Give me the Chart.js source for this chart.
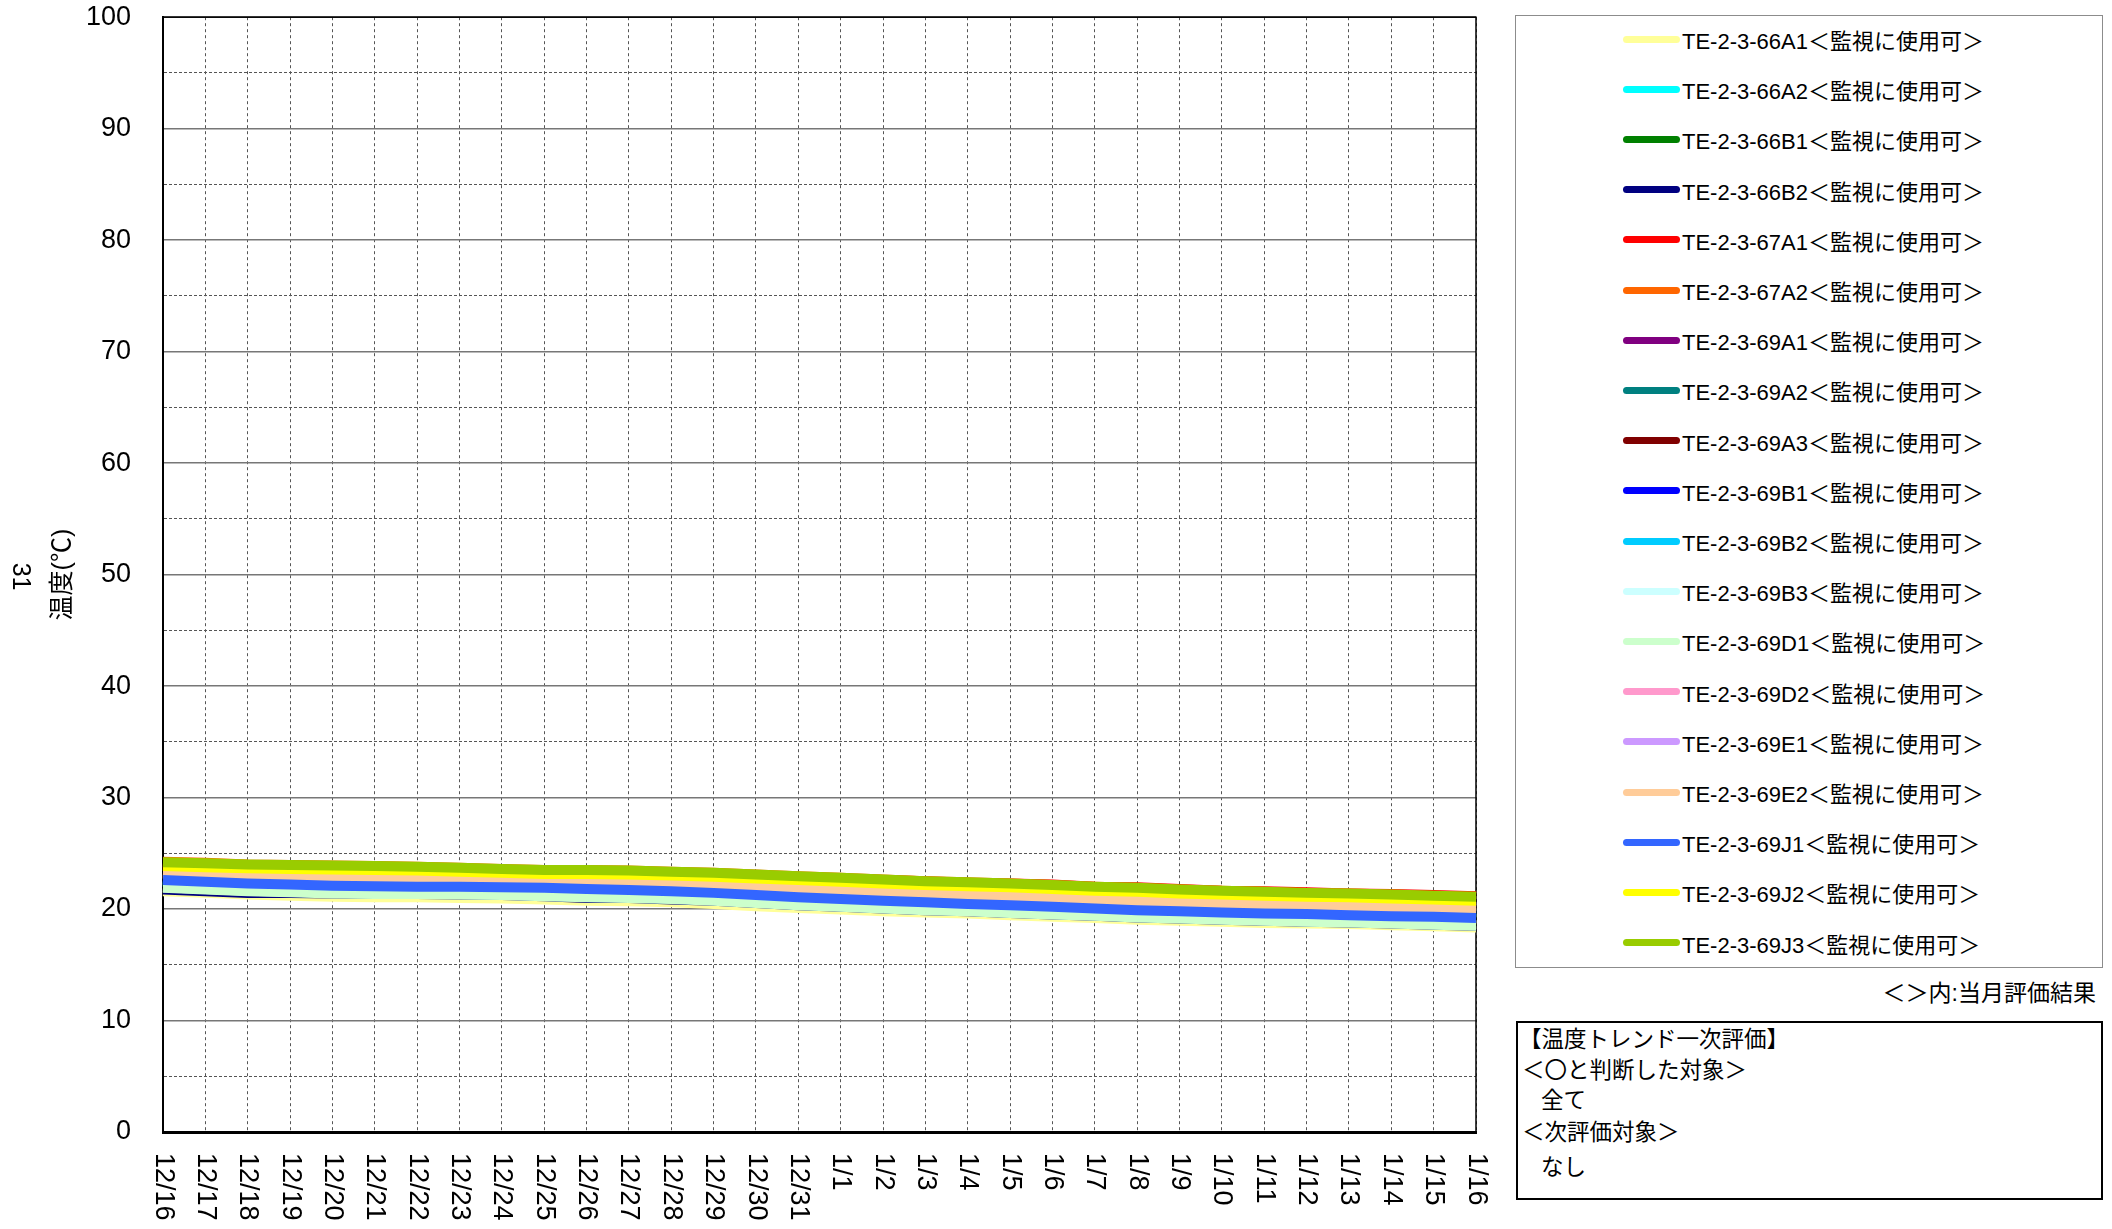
<!DOCTYPE html>
<html>
<head>
<meta charset="utf-8">
<script src="https://cdn.jsdelivr.net/npm/chart.js@4.4.1/dist/chart.umd.min.js"></script>
<style>
  html, body { margin: 0; padding: 0; background: #fff; }
  body { width: 2112px; height: 1229px; position: relative; overflow: hidden;
         font-family: "Liberation Sans", "Noto Sans CJK JP", sans-serif; color: #000; }
  #wrap { position: absolute; left: 0; top: -31px; width: 1500px; height: 1260px; }
  #legend { position: absolute; left: 1515px; top: 15px; width: 588px; height: 953px;
            box-sizing: border-box; border: 1.5px solid #8c8c8c; }
  .row { position: absolute; left: 107px; height: 30px; display: flex; align-items: center;
         font-size: 22px; white-space: nowrap; }
  .swatch { display: inline-block; width: 57px; height: 7px; border-radius: 4px; margin-right: 2px; }
  #note { position: absolute; right: 16px; top: 974px; font-size: 23px; white-space: nowrap; }
  #evalbox { position: absolute; left: 1516px; top: 1021px; width: 587px; height: 179px;
             box-sizing: border-box; border: 2px solid #000; }
  .ev { position: absolute; left: 4px; font-size: 22.5px; line-height: 28px; white-space: nowrap; }
</style>
</head>
<body>
<div id="wrap"><canvas id="grafico"></canvas></div>
<div id="legend"></div>
<div id="note">＜＞内:当月評価結果</div>
<div id="evalbox"></div>

<script>
// eixo x: dias
var dias = ['12/16','12/17','12/18','12/19','12/20','12/21','12/22','12/23','12/24','12/25',
            '12/26','12/27','12/28','12/29','12/30','12/31','1/1','1/2','1/3','1/4','1/5',
            '1/6','1/7','1/8','1/9','1/10','1/11','1/12','1/13','1/14','1/15','1/16'];

// nomes e cores das series
var nomes = ['TE-2-3-66A1','TE-2-3-66A2','TE-2-3-66B1','TE-2-3-66B2','TE-2-3-67A1','TE-2-3-67A2',
             'TE-2-3-69A1','TE-2-3-69A2','TE-2-3-69A3','TE-2-3-69B1','TE-2-3-69B2','TE-2-3-69B3',
             'TE-2-3-69D1','TE-2-3-69D2','TE-2-3-69E1','TE-2-3-69E2','TE-2-3-69J1','TE-2-3-69J2','TE-2-3-69J3'];
var cores = ['#FFFF99','#00FFFF','#008000','#000080','#FF0000','#FF6600',
             '#800080','#008080','#800000','#0000FF','#00CCFF','#CCFFFF',
             '#CCFFCC','#FF99CC','#CC99FF','#FFCC99','#3366FF','#FFFF00','#99CC00'];
var avaliacao = '＜監視に使用可＞';

// valores (graus C, um por dia)
var s66A1 = [21.6,21.45,21.3,21.2,21.1,21.05,21.05,21.0,20.95,20.85,20.75,20.7,20.6,20.45,20.25,20.1,19.95,19.8,19.7,19.6,19.45,19.3,19.2,19.05,18.95,18.85,18.75,18.7,18.65,18.55,18.45,18.35];
var s66A2 = [22.5,22.35,22.2,22.1,22.0,21.95,21.9,21.9,21.85,21.8,21.7,21.6,21.5,21.35,21.15,20.95,20.8,20.65,20.5,20.35,20.25,20.1,19.95,19.8,19.7,19.6,19.5,19.45,19.35,19.25,19.2,19.1];
var s66B1 = [22.55,22.4,22.25,22.15,22.05,22.0,21.95,21.95,21.9,21.85,21.75,21.65,21.55,21.4,21.2,21.0,20.85,20.7,20.55,20.4,20.3,20.15,20.0,19.85,19.75,19.65,19.55,19.5,19.4,19.3,19.25,19.15];
var s66B2 = [21.75,21.6,21.45,21.45,21.4,21.35,21.35,21.3,21.25,21.15,21.0,21.0,20.85,20.75,20.55,20.35,20.2,20.05,19.9,19.8,19.65,19.5,19.4,19.25,19.15,19.05,18.95,18.85,18.8,18.7,18.6,18.5];
var s67A1 = [24.1,24.0,23.9,23.85,23.8,23.75,23.7,23.6,23.5,23.4,23.4,23.35,23.25,23.15,23.0,22.85,22.7,22.6,22.5,22.35,22.3,22.2,22.0,21.95,21.8,21.65,21.6,21.5,21.4,21.35,21.25,21.15];
var s67A2 = [24.25,24.15,24.0,23.95,23.9,23.85,23.8,23.7,23.6,23.5,23.5,23.45,23.35,23.25,23.1,22.95,22.8,22.65,22.5,22.4,22.3,22.15,22.0,21.9,21.75,21.65,21.55,21.45,21.4,21.3,21.2,21.1];
var s69A1 = [23.2,23.1,23.0,22.9,22.8,22.75,22.7,22.65,22.55,22.45,22.4,22.3,22.2,22.1,21.95,21.8,21.65,21.5,21.4,21.25,21.05,20.9,20.8,20.65,20.55,20.45,20.35,20.3,20.2,20.15,20.1,20.0];
var s69A2 = [22.4,22.25,22.1,22.0,21.9,21.85,21.8,21.8,21.75,21.7,21.6,21.5,21.4,21.25,21.05,20.85,20.7,20.55,20.4,20.25,20.15,20.0,19.85,19.7,19.6,19.5,19.4,19.35,19.25,19.15,19.1,19.0];
var s69A3 = [24.0,23.9,23.8,23.75,23.7,23.65,23.6,23.5,23.4,23.3,23.3,23.25,23.15,23.05,22.9,22.75,22.6,22.45,22.3,22.2,22.1,21.95,21.8,21.7,21.55,21.45,21.35,21.25,21.2,21.1,21.0,20.9];
var s69B1 = [22.8,22.65,22.5,22.4,22.3,22.25,22.2,22.2,22.15,22.1,22.0,21.9,21.8,21.65,21.45,21.25,21.1,20.95,20.8,20.65,20.55,20.4,20.25,20.1,20.0,19.9,19.8,19.75,19.65,19.55,19.5,19.4];
var s69B2 = [22.7,22.55,22.4,22.3,22.2,22.15,22.1,22.1,22.05,22.0,21.9,21.8,21.7,21.55,21.35,21.15,21.0,20.85,20.7,20.55,20.45,20.3,20.15,20.0,19.9,19.8,19.7,19.65,19.55,19.45,19.4,19.3];
var s69B3 = [21.95,21.8,21.65,21.55,21.45,21.4,21.4,21.35,21.3,21.2,21.1,21.05,20.95,20.8,20.6,20.4,20.25,20.1,19.95,19.85,19.7,19.55,19.45,19.3,19.2,19.1,19.0,18.9,18.85,18.75,18.65,18.55];
var s69D1 = [21.9,21.75,21.6,21.5,21.4,21.35,21.35,21.3,21.25,21.15,21.05,21.0,20.9,20.75,20.55,20.35,20.2,20.05,19.9,19.8,19.65,19.5,19.4,19.25,19.15,19.05,18.95,18.85,18.8,18.7,18.6,18.5];
var s69D2 = [23.15,23.05,22.95,22.85,22.75,22.7,22.65,22.6,22.5,22.4,22.35,22.25,22.15,22.05,21.9,21.75,21.6,21.45,21.35,21.2,21.0,20.85,20.75,20.6,20.5,20.4,20.3,20.25,20.15,20.1,20.05,19.95];
var s69E1 = [23.4,23.3,23.2,23.1,23.0,22.95,22.9,22.85,22.75,22.65,22.6,22.5,22.4,22.3,22.15,22.0,21.85,21.7,21.6,21.45,21.25,21.1,21.0,20.85,20.75,20.65,20.55,20.5,20.4,20.35,20.3,20.2];
var s69E2 = [23.25,23.15,23.05,22.95,22.85,22.8,22.75,22.7,22.6,22.5,22.45,22.35,22.25,22.15,22.0,21.85,21.7,21.55,21.45,21.3,21.1,20.95,20.85,20.7,20.6,20.5,20.4,20.35,20.25,20.2,20.15,20.05];
var s69J1 = [22.6,22.45,22.3,22.2,22.1,22.05,22.0,22.0,21.95,21.9,21.8,21.7,21.6,21.45,21.25,21.05,20.9,20.75,20.6,20.45,20.35,20.2,20.05,19.9,19.8,19.7,19.6,19.55,19.45,19.35,19.3,19.2];
var s69J2 = [23.85,23.75,23.65,23.6,23.55,23.5,23.45,23.35,23.25,23.15,23.15,23.1,23.0,22.9,22.75,22.6,22.45,22.3,22.15,22.05,21.95,21.8,21.65,21.55,21.4,21.3,21.2,21.1,21.05,20.95,20.85,20.75];
var s69J3 = [24.2,24.1,24.0,23.95,23.9,23.85,23.8,23.7,23.6,23.5,23.5,23.45,23.35,23.25,23.1,22.95,22.8,22.65,22.5,22.4,22.3,22.15,22.0,21.9,21.75,21.65,21.55,21.45,21.4,21.3,21.2,21.1];

var series = [s66A1,s66A2,s66B1,s66B2,s67A1,s67A2,s69A1,s69A2,s69A3,s69B1,s69B2,s69B3,
              s69D1,s69D2,s69E1,s69E2,s69J1,s69J2,s69J3];

// eixo y
var yMin = 0, yMax = 100, yPasso = 5;
var tituloY = '温度(℃)';
var numeroGrafico = '31';

// caixa de avaliacao
var linhasAvaliacao = ['【温度トレンド一次評価】','＜〇と判断した対象＞','全て','＜次評価対象＞','なし'];

var fonte = '"Liberation Sans", "Noto Sans CJK JP", sans-serif';

// legenda em html
function montarLegenda() {
    var box = document.getElementById('legend');
    for (var i = 0; i < nomes.length; i++) {
        var row = document.createElement('div');
        row.className = 'row';
        row.style.top = (8 + i * 50.2) + 'px';
        var sw = document.createElement('span');
        sw.className = 'swatch';
        sw.style.background = cores[i];
        var tx = document.createElement('span');
        tx.textContent = nomes[i] + avaliacao;
        row.appendChild(sw);
        row.appendChild(tx);
        box.appendChild(row);
    }
}

function montarAvaliacao() {
    var box = document.getElementById('evalbox');
    var tops = [3, 34, 64, 96, 131];
    var recuo = [-3, 0, 19, 0, 19];
    for (var i = 0; i < linhasAvaliacao.length; i++) {
        var d = document.createElement('div');
        d.className = 'ev';
        d.style.top = tops[i] + 'px';
        d.style.left = (4 + recuo[i]) + 'px';
        d.textContent = linhasAvaliacao[i];
        box.appendChild(d);
    }
}

// moldura, rotulos do eixo x (girados) e numero do grafico
var extras = {
    id: 'extras',
    beforeDatasetsDraw: function(chart) {
        var a = chart.chartArea, ctx = chart.ctx;
        ctx.save();
        ctx.strokeStyle = '#000';
        ctx.lineWidth = 1.5;
        ctx.strokeRect(a.left, a.top, a.right - a.left, a.bottom - a.top);
        ctx.restore();
    },
    afterDraw: function(chart) {
        var ctx = chart.ctx, xs = chart.scales.x, a = chart.chartArea;
        ctx.save();
        ctx.fillStyle = '#000';
        ctx.font = '27px ' + fonte;
        ctx.textAlign = 'left';
        ctx.textBaseline = 'middle';
        for (var i = 0; i < dias.length; i++) {
            ctx.save();
            ctx.translate(xs.getPixelForTick(i), xs.top + 21);
            ctx.rotate(Math.PI / 2);
            ctx.fillText(dias[i], 0, 0);
            ctx.restore();
        }
        ctx.font = '25px ' + fonte;
        ctx.textAlign = 'center';
        ctx.translate(20, (a.top + a.bottom) / 2 + 2);
        ctx.rotate(Math.PI / 2);
        ctx.fillText(numeroGrafico, 0, 0);
        ctx.restore();
    }
};

function criarGrafico(idDaDiv) {
    var datasets = [];
    for (var i = 0; i < series.length; i++) {
        datasets.push({
            label: nomes[i] + avaliacao,
            data: series[i],
            borderColor: cores[i],
            backgroundColor: cores[i],
            borderWidth: 10,
            pointRadius: 0,
            tension: 0,
            fill: false,
            order: series.length - i
        });
    }
    var ctx = document.getElementById(idDaDiv).getContext('2d');
    return new Chart(ctx, {
        type: 'line',
        data: { labels: dias, datasets: datasets },
        plugins: [extras],
        options: {
            responsive: true,
            maintainAspectRatio: false,
            animation: false,
            layout: { padding: { top: 16, right: 24, left: 0, bottom: 0 } },
            plugins: { legend: { display: false }, tooltip: { enabled: false } },
            scales: {
                x: {
                    type: 'category',
                    offset: false,
                    ticks: { display: false },
                    grid: { color: '#555', lineWidth: 1, drawTicks: false },
                    border: { display: true, color: '#000', width: 3, dash: [3, 3] },
                    afterFit: function(s) { s.height = 97; }
                },
                y: {
                    min: yMin,
                    max: yMax,
                    ticks: {
                        stepSize: yPasso,
                        autoSkip: false,
                        padding: 32,
                        color: '#000',
                        font: { size: 27, family: fonte },
                        callback: function(v) { return v % 10 === 0 ? v : ''; }
                    },
                    grid: {
                        drawTicks: false,
                        color: function(c) { return c.tick && c.tick.value % 10 === 0 ? '#777' : '#555'; },
                        lineWidth: function(c) { return c.tick && c.tick.value % 10 === 0 ? 1.5 : 1; }
                    },
                    border: {
                        display: true, color: '#000', width: 2,
                        dash: function(c) { return c.tick && c.tick.value % 10 !== 0 ? [3, 2] : []; }
                    },
                    title: {
                        display: true,
                        text: tituloY,
                        color: '#000',
                        font: { size: 25, family: fonte },
                        padding: { top: 48, bottom: 0 }
                    },
                    afterFit: function(s) { s.width = 163; }
                }
            }
        }
    });
}

montarLegenda();
montarAvaliacao();
criarGrafico('grafico');
</script>
</body>
</html>
